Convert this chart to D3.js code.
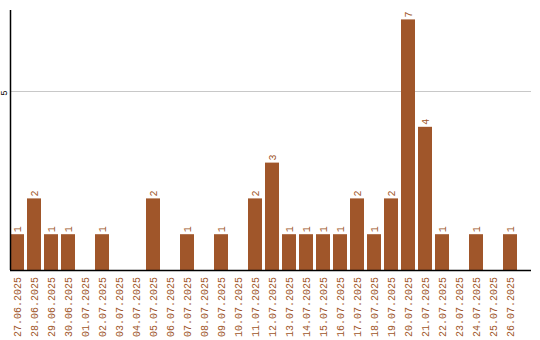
<!DOCTYPE html>
<html>
<head>
<meta charset="utf-8">
<script src="https://cdn.jsdelivr.net/npm/d3@7"></script>
<style>
  body { margin: 0; background: #fff; }
  svg { display: block; }
  text { font-family: "Liberation Mono", "DejaVu Sans Mono", monospace; }
</style>
</head>
<body>
<svg></svg>
<script>
const width = 540;
const height = 340;
const svg = d3.select("svg").attr("width", width).attr("height", height);

const dates = [
  "27.06.2025", "28.06.2025", "29.06.2025", "30.06.2025", "01.07.2025",
  "02.07.2025", "03.07.2025", "04.07.2025", "05.07.2025", "06.07.2025",
  "07.07.2025", "08.07.2025", "09.07.2025", "10.07.2025", "11.07.2025",
  "12.07.2025", "13.07.2025", "14.07.2025", "15.07.2025", "16.07.2025",
  "17.07.2025", "18.07.2025", "19.07.2025", "20.07.2025", "21.07.2025",
  "22.07.2025", "23.07.2025", "24.07.2025", "25.07.2025", "26.07.2025"
];
const counts = [1, 2, 1, 1, 0, 1, 0, 0, 2, 0, 1, 0, 1, 0, 2, 3, 1, 1, 1, 1, 2, 1, 2, 7, 4, 1, 0, 1, 0, 1];
const yTicks = [5];

const barColor = "#a0562a";
const plotLeft = 10, plotRight = 531, plotTop = 10, plotBottom = 270;

const x = d3.scaleBand()
  .domain(dates)
  .range([plotLeft - 1.5, plotLeft + 510 - 1.5])
  .paddingInner(3 / 17)
  .paddingOuter(1.5 / 17);

const y = d3.scaleLinear()
  .domain([0, 7.263])
  .range([plotBottom, plotTop]);

// grid line
svg.append("g")
  .selectAll("line")
  .data(yTicks)
  .join("line")
  .attr("x1", plotLeft)
  .attr("x2", plotRight)
  .attr("y1", d => Math.round(y(d)) + 0.5)
  .attr("y2", d => Math.round(y(d)) + 0.5)
  .attr("stroke", "#c8c8c8");

// y tick labels
svg.append("g")
  .selectAll("text")
  .data(yTicks)
  .join("text")
  .attr("transform", d => `translate(4, ${y(d) + 2}) rotate(-90)`)
  .attr("text-anchor", "middle")
  .attr("dy", "0.35em")
  .attr("font-size", 9)
  .attr("fill", "#000")
  .text(d => d);

const rows = counts.map((v, i) => ({ date: dates[i], v }));

// bars
svg.append("g")
  .selectAll("rect")
  .data(rows)
  .join("rect")
  .attr("x", d => x(d.date))
  .attr("y", d => y(d.v))
  .attr("width", x.bandwidth())
  .attr("height", d => plotBottom - y(d.v))
  .attr("fill", barColor);

// value labels
svg.append("g")
  .selectAll("text")
  .data(rows.filter(d => d.v > 0))
  .join("text")
  .attr("transform", d => `translate(${x(d.date) + x.bandwidth() / 2}, ${y(d.v) - 2}) rotate(-90)`)
  .attr("text-anchor", "start")
  .attr("dy", "0.35em")
  .attr("font-size", 10)
  .attr("fill", barColor)
  .text(d => d.v);

// date labels
svg.append("g")
  .selectAll("text")
  .data(dates)
  .join("text")
  .attr("transform", d => `translate(${x(d) + x.bandwidth() / 2}, 277) rotate(-90)`)
  .attr("text-anchor", "end")
  .attr("dy", "0.35em")
  .attr("font-size", 10)
  .attr("fill", barColor)
  .text(d => d);

// axes
svg.append("line")
  .attr("x1", plotLeft + 0.5).attr("x2", plotLeft + 0.5)
  .attr("y1", plotTop).attr("y2", plotBottom)
  .attr("stroke", "#000")
  .attr("stroke-width", 1.5);

svg.append("line")
  .attr("x1", plotLeft).attr("x2", plotRight)
  .attr("y1", plotBottom + 0.5).attr("y2", plotBottom + 0.5)
  .attr("stroke", "#000")
  .attr("stroke-width", 1.5);
</script>
</body>
</html>
